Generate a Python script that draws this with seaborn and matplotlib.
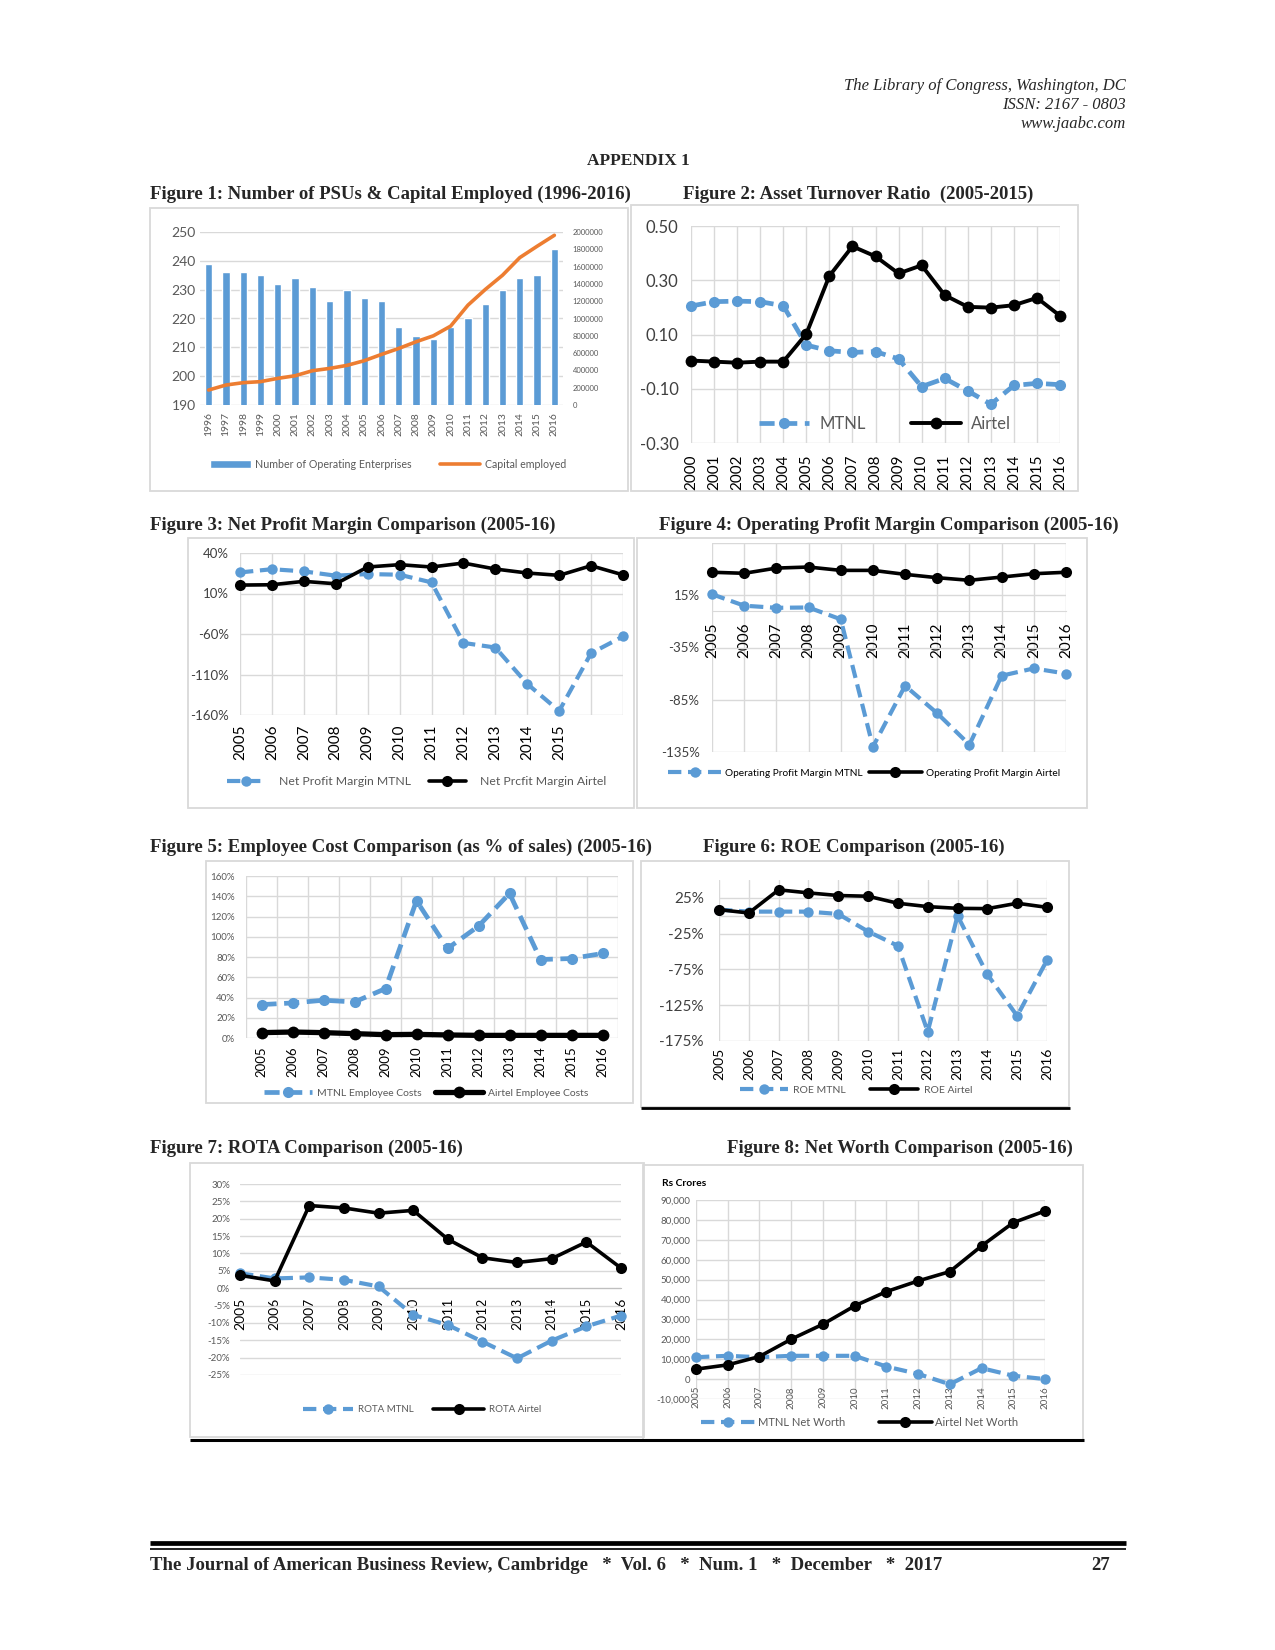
import numpy as np
import matplotlib
matplotlib.use("Agg")
import matplotlib.pyplot as plt
import seaborn as sns
from matplotlib.patches import Rectangle

sns.set_style("white")
plt.rcParams['font.family'] = ['Lato', 'DejaVu Sans']

W, H, DPI = 1275, 1650, 100
BLUE = '#5B9BD5'
ORANGE = '#ED7D31'
GRID = '#D9D9D9'
GRAY = '#595959'
DARK = '#404040'
SERIF = ['Liberation Serif', 'DejaVu Serif']

# ---------------- data ----------------
years_f1 = [str(y) for y in range(1996, 2017)]
psu_count = [239, 236, 236, 235, 232, 234, 231, 226, 230, 227, 226, 217, 214, 213, 217, 220, 225, 230, 234, 235, 244]
capital_employed = [173000, 231000, 258000, 270000, 308000, 338000, 396000, 423000, 458000, 512000, 585000,
                    654000, 731000, 800000, 912000, 1154000, 1335000, 1500000, 1704000, 1835000, 1962000]

years_f2 = [str(y) for y in range(2000, 2017)]
atr_mtnl = [0.205, 0.221, 0.223, 0.221, 0.206, 0.061, 0.040, 0.034, 0.037, 0.010, -0.092, -0.062, -0.108, -0.157, -0.088, -0.080, -0.085]
atr_airtel = [0.004, 0.0, -0.004, 0.0, 0.0, 0.102, 0.316, 0.425, 0.388, 0.325, 0.355, 0.245, 0.202, 0.199, 0.208, 0.235, 0.169]

years_f3 = [str(y) for y in range(2005, 2016)] + ["", ""]
npm_mtnl = [16, 20, 17.3, 12, 14, 13.2, 3.7, -71, -76.7, -121.6, -155, -83.7, -63]
npm_airtel = [0.4, 0.8, 5, 2, 22.7, 25.6, 22.7, 27.6, 20.2, 15.3, 12.4, 24.3, 13]

years_12 = [str(y) for y in range(2005, 2017)]
opm_mtnl = [16, 5, 3, 3.3, -8, -130, -71.6, -98, -128, -62, -55, -60]
opm_airtel = [37, 36, 41, 42, 38.8, 38.8, 35, 31.8, 29.3, 32.4, 35.6, 37]

emp_mtnl = [33, 34.6, 37.3, 35.6, 48.8, 135.6, 88.4, 110.5, 142.8, 77.5, 78.5, 83.5]
emp_airtel = [5.3, 5.9, 5.3, 4.3, 3.3, 3.6, 3.0, 2.6, 2.6, 2.6, 2.6, 2.6]

roe_mtnl = [8.6, 5.8, 5.8, 5.8, 2.5, -22, -42, -162, 0.1, -82, -140, -62]
roe_airtel = [8.6, 3.9, 36.3, 32, 28.3, 27.3, 17.5, 12.8, 10.4, 10, 17.5, 11.8]

rota_mtnl = [4.3, 2.8, 3.1, 2.4, 0.5, -7.7, -10.6, -15.4, -20.2, -15.1, -11, -7.9]
rota_airtel = [3.7, 2.1, 23.8, 23.1, 21.6, 22.4, 14.1, 8.75, 7.4, 8.5, 13.3, 5.8]

nw_mtnl = [11000, 11700, 11000, 11700, 11700, 11700, 6300, 2600, -2600, 5500, 1700, 0]
nw_airtel = [5000, 7150, 11340, 20040, 27570, 36780, 43970, 49330, 54020, 66900, 78620, 84500]

# ---------------- figure ----------------
fig = plt.figure(figsize=(W / DPI, H / DPI), dpi=DPI)
bg = fig.add_axes([0, 0, 1, 1], zorder=-5)
bg.set_xlim(0, W)
bg.set_ylim(H, 0)
bg.axis('off')


def px_axes(x0, y0, x1, y1):
    ax = fig.add_axes([x0 / W, 1 - y1 / H, (x1 - x0) / W, (y1 - y0) / H])
    ax.patch.set_alpha(0)
    return ax


def frame(x0, y0, x1, y1, color=GRID, lw=1.3):
    bg.add_patch(Rectangle((x0, y0), x1 - x0, y1 - y0, fill=False, ec=color, lw=lw))


def title(x, y, s):
    bg.text(x, y, s, family=SERIF, weight='bold', fontsize=13.5, ha='left', va='center')


def style_axes(ax):
    for sp in ax.spines.values():
        sp.set_visible(False)
    ax.set_axisbelow(True)
    ax.set_xlabel('')
    ax.set_ylabel('')


def draw_pair(ax, x, mt, ai, lw_m=3.0, lw_a=2.6, ms_m=7.5, ms_a=8):
    sns.lineplot(x=x, y=mt, ax=ax, color=BLUE, lw=lw_m, linestyle=(0, (3.2, 1.6)),
                 marker='o', markersize=ms_m, markeredgewidth=0, markeredgecolor=BLUE,
                 clip_on=False, zorder=3)
    lm = ax.lines[-1]
    sns.lineplot(x=x, y=ai, ax=ax, color='black', lw=lw_a, marker='o', markersize=ms_a,
                 markeredgewidth=0, markeredgecolor='black', clip_on=False, zorder=4)
    la = ax.lines[-1]
    return lm, la


def legend(handles, labels, cx, cy, fs, hl, tp, cs, color=GRAY):
    fig.legend(handles, labels, loc='center', bbox_to_anchor=(cx / W, 1 - cy / H), ncol=2,
               frameon=False, fontsize=fs, handlelength=hl, handletextpad=tp, columnspacing=cs,
               labelcolor=color, numpoints=1, borderaxespad=0, borderpad=0)


# ---------------- header ----------------
for yy, s in [(86, "The Library of Congress, Washington, DC"), (105, "ISSN: 2167 - 0803"), (124, "www.jaabc.com")]:
    bg.text(1126, yy, s, family=SERIF, style='italic', fontsize=12, ha='right', va='center')
bg.text(638, 161, "APPENDIX 1", family=SERIF, weight='bold', fontsize=12.5, ha='center', va='center')

# ---------------- Figure 1 ----------------
title(150, 194, "Figure 1: Number of PSUs & Capital Employed (1996-2016)")
frame(150, 208, 628, 491)
ax1 = px_axes(200, 232, 563, 405)
sns.barplot(x=years_f1, y=psu_count, ax=ax1, color=BLUE, saturation=1, width=0.42, zorder=2)
style_axes(ax1)
ax1.set_ylim(190, 250)
ax1.set_yticks(range(190, 251, 10))
ax1.set_xlim(-0.5, 20.5)
ax1.grid(True, axis='y', color=GRID, lw=1.0)
ax1.tick_params(axis='y', labelsize=10, colors=GRAY, length=0, pad=3)
ax1.tick_params(axis='x', labelsize=7.5, colors=GRAY, length=0, pad=5, labelrotation=90)
ax1b = ax1.twinx()
sns.lineplot(x=np.arange(len(capital_employed)), y=capital_employed, ax=ax1b, color=ORANGE, lw=2.6, zorder=3)
style_axes(ax1b)
ax1b.set_ylim(0, 2000000)
ax1b.set_yticks(range(0, 2000001, 200000))
ax1b.set_yticklabels([str(v) for v in range(0, 2000001, 200000)])
ax1b.tick_params(axis='y', labelsize=5.5, colors=GRAY, length=0, pad=7)
ax1b.set_xlim(-0.5, 20.5)
legend([ax1.patches[0], ax1b.lines[0]], ["Number of Operating Enterprises", "Capital employed"],
       388, 464, 7.7, 3.8, 0.4, 2.6)

# ---------------- Figure 2 ----------------
title(683, 194, "Figure 2: Asset Turnover Ratio  (2005-2015)")
frame(631, 205, 1078, 491)
ax2 = px_axes(691, 226, 1060, 443)
lm, la = draw_pair(ax2, np.arange(len(years_f2)), atr_mtnl, atr_airtel, lw_m=3.4, lw_a=2.8, ms_m=8, ms_a=8.5)
style_axes(ax2)
ax2.set_xlim(0, len(years_f2) - 1)
ax2.set_ylim(-0.3, 0.5)
ax2.set_yticks([0.5, 0.3, 0.1, -0.1, -0.3])
ax2.set_yticklabels(["0.50", "0.30", "0.10", "-0.10", "-0.30"])
ax2.set_xticks(range(len(years_f2)))
ax2.set_xticklabels(years_f2)
ax2.grid(True, axis='both', color=GRID, lw=1.0)
ax2.axhline(0, color=GRID, lw=1.0, zorder=1)
ax2.tick_params(axis='y', labelsize=12, colors=DARK, length=0, pad=9)
ax2.tick_params(axis='x', labelsize=11, colors='black', length=0, pad=8, labelrotation=90)
legend([lm, la], ["MTNL", "Airtel"], 885, 424, 12, 3.0, 0.6, 2.7)

# ---------------- Figure 3 ----------------
title(150, 525, "Figure 3: Net Profit Margin Comparison (2005-16)")
frame(188, 538, 634, 808)
ax3 = px_axes(240, 553, 623, 715)
lm, la = draw_pair(ax3, np.arange(len(years_f3)), npm_mtnl, npm_airtel, lw_m=3.0, lw_a=2.6, ms_m=7.5, ms_a=8)
style_axes(ax3)
ax3.set_xlim(0, len(years_f3) - 1)
ax3.set_ylim(-160, 40)
ax3.set_yticks([40, -10, -60, -110, -160])
ax3.set_yticklabels(["40%", "10%", "-60%", "-110%", "-160%"])
ax3.set_xticks(range(len(years_f3)))
ax3.set_xticklabels(years_f3)
ax3.grid(True, axis='both', color=GRID, lw=1.0)
ax3.axhline(0, color=GRID, lw=1.0, zorder=1)
ax3.tick_params(axis='y', labelsize=9.5, colors=DARK, length=0, pad=8)
ax3.tick_params(axis='x', labelsize=11, colors='black', length=0, pad=7, labelrotation=90)
legend([lm, la], ["Net Profit Margin MTNL", "Net Prcfit Margin Airtel"], 417, 782, 8.8, 3.0, 1.2, 1.5)

# ---------------- Figure 4 ----------------
title(659, 525, "Figure 4: Operating Profit Margin Comparison (2005-16)")
frame(637, 538, 1087, 808)
ax4 = px_axes(712, 543, 1066, 752)
lm, la = draw_pair(ax4, np.arange(len(years_12)), opm_mtnl, opm_airtel, lw_m=3.0, lw_a=2.6, ms_m=7.5, ms_a=8)
style_axes(ax4)
ax4.set_xlim(0, len(years_12) - 1)
ax4.set_ylim(-135, 65)
ax4.set_yticks([15, -35, -85, -135])
ax4.set_yticklabels(["15%", "-35%", "-85%", "-135%"])
ax4.set_xticks(range(len(years_12)))
ax4.set_xticklabels(years_12)
ax4.grid(True, axis='both', color=GRID, lw=1.0)
ax4.axhline(65, color=GRID, lw=1.0, zorder=1)
ax4.spines['bottom'].set_visible(True)
ax4.spines['bottom'].set_position(('data', 0))
ax4.spines['bottom'].set_color(GRID)
ax4.tick_params(axis='y', labelsize=9.5, colors=DARK, length=0, pad=9)
ax4.tick_params(axis='x', labelsize=11, colors='black', length=0, pad=8, labelrotation=90)
legend([lm, la], ["Operating Profit Margin MTNL", "Operating Profit Margin Airtel"], 864, 773, 7.3, 5.2, 0.4, 0.6,
       color='black')

# ---------------- Figure 5 ----------------
title(150, 847, "Figure 5: Employee Cost Comparison (as % of sales) (2005-16)")
frame(206, 861, 633, 1103)
ax5 = px_axes(246, 876, 618, 1038)
lm, la = draw_pair(ax5, np.arange(len(years_12)), emp_mtnl, emp_airtel, lw_m=3.4, lw_a=3.8, ms_m=8, ms_a=8.5)
style_axes(ax5)
ax5.set_xlim(-0.5, len(years_12) - 0.5)
ax5.set_ylim(0, 160)
ax5.set_yticks(range(0, 161, 20))
ax5.set_yticklabels([f"{v}%" for v in range(0, 161, 20)])
ax5.set_xticks(range(len(years_12)))
ax5.set_xticklabels(years_12)
ax5.set_xticks(np.arange(-0.5, len(years_12), 1.0), minor=True)
ax5.grid(True, axis='y', which='major', color=GRID, lw=1.0)
ax5.grid(True, axis='x', which='minor', color=GRID, lw=1.0)
ax5.tick_params(axis='y', labelsize=7, colors=GRAY, length=0, pad=8)
ax5.tick_params(axis='x', which='both', length=0)
ax5.tick_params(axis='x', labelsize=9.5, colors='black', pad=6, labelrotation=90)
legend([lm, la], ["MTNL Employee Costs", "Airtel Employee Costs"], 426, 1093, 7.5, 4.6, 0.5, 1.3)

# ---------------- Figure 6 ----------------
title(703, 847, "Figure 6: ROE Comparison (2005-16)")
frame(641, 861, 1069, 1107)
ax6 = px_axes(719, 880, 1047, 1041)
lm, la = draw_pair(ax6, np.arange(len(years_12)), roe_mtnl, roe_airtel, lw_m=3.0, lw_a=2.6, ms_m=7.5, ms_a=8)
style_axes(ax6)
ax6.set_xlim(0, len(years_12) - 1)
ax6.set_ylim(-175, 50)
ax6.set_yticks([25, -25, -75, -125, -175])
ax6.set_yticklabels(["25%", "-25%", "-75%", "-125%", "-175%"])
ax6.set_xticks(range(len(years_12)))
ax6.set_xticklabels(years_12)
ax6.grid(True, axis='both', color=GRID, lw=1.0)
ax6.axhline(0, color=GRID, lw=1.0, zorder=1)
ax6.tick_params(axis='y', labelsize=11, colors=DARK, length=0, pad=11)
ax6.tick_params(axis='x', labelsize=10, colors='black', length=0, pad=5, labelrotation=90)
legend([lm, la], ["ROE MTNL", "ROE Airtel"], 856, 1090, 7.5, 4.6, 0.55, 2.3)

# ---------------- Figure 7 ----------------
title(150, 1148, "Figure 7: ROTA Comparison (2005-16)")
frame(190, 1163, 644, 1437)
ax7 = px_axes(240, 1184, 621, 1375)
lm, la = draw_pair(ax7, np.arange(len(years_12)), rota_mtnl, rota_airtel, lw_m=3.0, lw_a=2.6, ms_m=7.5, ms_a=8)
style_axes(ax7)
ax7.set_xlim(0, len(years_12) - 1)
ax7.set_ylim(-25, 30)
ax7.set_yticks(range(-25, 31, 5))
ax7.set_yticklabels([f"{v}%" for v in range(-25, 31, 5)])
ax7.set_xticks(range(len(years_12)))
ax7.set_xticklabels(years_12)
ax7.grid(True, axis='y', color=GRID, lw=1.0)
ax7.spines['bottom'].set_visible(True)
ax7.spines['bottom'].set_position(('data', 0))
ax7.spines['bottom'].set_color('#BFBFBF')
ax7.tick_params(axis='y', labelsize=7, colors=GRAY, length=0, pad=7)
ax7.tick_params(axis='x', labelsize=10, colors='black', length=4, color='#BFBFBF', pad=3, labelrotation=90)
legend([lm, la], ["ROTA MTNL", "ROTA Airtel"], 422, 1410, 7, 5.2, 0.5, 2.0)

# ---------------- Figure 8 ----------------
title(727, 1148, "Figure 8: Net Worth Comparison (2005-16)")
frame(643, 1165, 1083, 1440)
bg.text(662, 1184, "Rs Crores", fontsize=7.5, weight='bold', color='black', ha='left', va='center')
ax8 = px_axes(696, 1200, 1045, 1399)
lm, la = draw_pair(ax8, np.arange(len(years_12)), nw_mtnl, nw_airtel, lw_m=3.0, lw_a=2.6, ms_m=7.5, ms_a=8)
style_axes(ax8)
ax8.set_xlim(0, len(years_12) - 1)
ax8.set_ylim(-10000, 90000)
ax8.set_yticks(range(-10000, 90001, 10000))
ax8.set_yticklabels([f"{v:,}" for v in range(-10000, 90001, 10000)])
ax8.set_xticks(range(len(years_12)))
ax8.set_xticklabels(years_12)
ax8.grid(True, axis='both', color=GRID, lw=1.0)
ax8.spines['bottom'].set_visible(True)
ax8.spines['bottom'].set_position(('data', 0))
ax8.spines['bottom'].set_color(GRID)
ax8.tick_params(axis='y', labelsize=7, colors=GRAY, length=0, pad=4)
ax8.tick_params(axis='x', labelsize=7, colors=GRAY, length=0, pad=5, labelrotation=90)
legend([lm, la], ["MTNL Net Worth", "Airtel Net Worth"], 860, 1422, 8, 4.8, 0.3, 3.0)

# ---------------- rules & footer ----------------
bg.plot([641, 1070], [1108, 1108], color='black', lw=2.0, solid_capstyle='butt')
bg.plot([190, 1084], [1440, 1440], color='black', lw=2.2, solid_capstyle='butt')
bg.plot([150, 1126], [1543, 1543], color='black', lw=3.4, solid_capstyle='butt')
bg.plot([150, 1126], [1549, 1549], color='black', lw=1.2, solid_capstyle='butt')
bg.text(150, 1566, "The Journal of American Business Review, Cambridge   *  Vol. 6   *  Num. 1   *  December   *  2017",
        family=SERIF, weight='bold', fontsize=13.5, ha='left', va='center')
bg.text(1110, 1566, "27", family=SERIF, weight='bold', fontsize=13.5, ha='right', va='center')

fig.savefig("out.png", dpi=DPI, facecolor='white')
